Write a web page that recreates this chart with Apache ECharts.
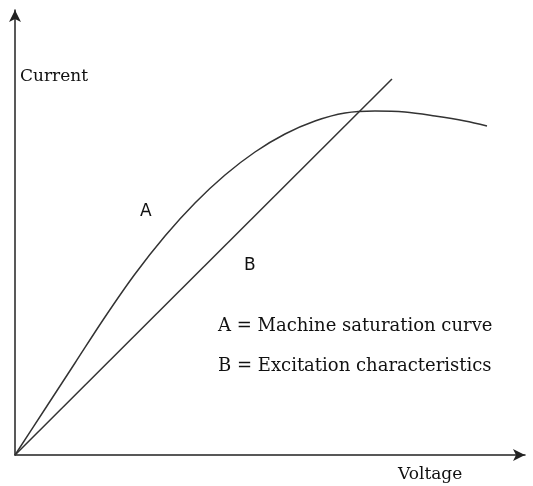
<!DOCTYPE html>
<html>
<head>
<meta charset="utf-8">
<script src="https://cdn.jsdelivr.net/npm/echarts@6/dist/echarts.min.js"></script>
<style>
  html, body { margin: 0; padding: 0; background: #fff; }
  #main { width: 533px; height: 486px; }
</style>
</head>
<body>
<div id="main"></div>
<script>
// values (arbitrary units, origin at the axes corner)
const curveA = [[0, 0], [30, 46], [60, 92], [90, 138], [120, 181], [150, 219],
  [180, 252], [210, 280], [240, 303], [270, 321], [300, 334], [330, 342],
  [360, 344], [390, 343], [420, 339], [450, 334], [472, 329]]
const lineB = [[0, 0], [377, 376]]
const xLabel = 'Voltage'
const yLabel = 'Current'
const legendLines = ['A = Machine saturation curve', 'B = Excitation characteristics']

const chart = echarts.init(document.getElementById('main'))

const serif = '"DejaVu Serif", "Liberation Serif", serif'

const option = {
  animation: false,
  grid: { left: 15, right: 8, top: 10, bottom: 31 },
  xAxis: {
    type: 'value',
    min: 0,
    max: 510,
    axisLine: {
      show: true,
      symbol: ['none', 'arrow'],
      symbolSize: [9, 12],
      lineStyle: { color: '#222', width: 1.5 }
    },
    axisTick: { show: false },
    axisLabel: { show: false },
    splitLine: { show: false }
  },
  yAxis: {
    type: 'value',
    min: 0,
    max: 445,
    axisLine: {
      show: true,
      symbol: ['none', 'arrow'],
      symbolSize: [9, 12],
      lineStyle: { color: '#222', width: 1.5 }
    },
    axisTick: { show: false },
    axisLabel: { show: false },
    splitLine: { show: false }
  },
  series: [
    {
      name: 'A',
      type: 'line',
      data: curveA,
      smooth: 0.33,
      showSymbol: false,
      lineStyle: { color: '#333', width: 1.5 }
    },
    {
      name: 'B',
      type: 'line',
      data: lineB,
      showSymbol: false,
      lineStyle: { color: '#333', width: 1.5 }
    }
  ],
  graphic: [
    { type: 'text', left: 20, top: 68, style: { text: yLabel, font: '17px ' + serif, fill: '#111' } },
    { type: 'text', left: 398, top: 466, style: { text: xLabel, font: '17px ' + serif, fill: '#111' } },
    { type: 'text', left: 140, top: 203, style: { text: 'A', font: '17px "DejaVu Sans", sans-serif', fill: '#111' } },
    { type: 'text', left: 244, top: 257, style: { text: 'B', font: '17px "DejaVu Sans", sans-serif', fill: '#111' } },
    { type: 'text', left: 218, top: 317, style: { text: legendLines[0], font: '18px ' + serif, fill: '#111' } },
    { type: 'text', left: 218, top: 357, style: { text: legendLines[1], font: '18px ' + serif, fill: '#111' } }
  ]
}

chart.setOption(option)
</script>
</body>
</html>
